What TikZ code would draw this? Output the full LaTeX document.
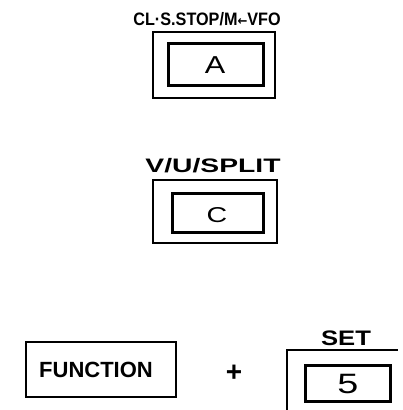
\documentclass[tikz,border=0pt]{standalone}
\usepackage{fontspec}
\setmainfont{Liberation Sans}
\newfontfamily\arrowfont{DejaVu Sans}
\begin{document}
\begin{tikzpicture}[x=1pt,y=-1pt,
  outerbox/.style={draw=black,line width=2pt},
  innerbox/.style={draw=black,line width=3pt},
  lbl/.style={inner sep=0pt,anchor=base,font=\bfseries},
  keytxt/.style={inner sep=0pt,anchor=base}]
\useasboundingbox[fill=white] (0,0) rectangle (403,410);
% A key
\node[lbl,font=\fontsize{18}{20}\bfseries\selectfont,xscale=0.9] (labA) at (207,25) {CL·S.STOP/M{\arrowfont\bfseries\fontsize{13}{14}\selectfont←}VFO};
\draw[outerbox] (153,32) rectangle (275,98);
\draw[innerbox] (168,43) rectangle (263,85);
\node[keytxt,font=\fontsize{24.5}{26}\selectfont,xscale=1.25] (keyA) at (215,73) {A};
% C key
\node[lbl,font=\fontsize{19.5}{22}\bfseries\selectfont,xscale=1.45] (labC) at (213,172) {V/U/SPLIT};
\draw[outerbox] (153,180) rectangle (277,243);
\draw[innerbox] (172,193) rectangle (263,232);
\node[keytxt,font=\fontsize{21.5}{24}\selectfont,xscale=1.33] (keyC) at (217,222) {C};
% FUNCTION
\draw[outerbox] (26,342) rectangle (176,397);
\node[lbl,font=\fontsize{22}{24}\bfseries\selectfont] (func) at (96,377) {FUNCTION};
\node[inner sep=0pt,font=\fontsize{28}{30}\bfseries\selectfont] (plus) at (234,373) {+};
% SET 5
\node[lbl,font=\fontsize{21}{24}\bfseries\selectfont,xscale=1.22] (labS) at (346,345) {SET};
\draw[outerbox] (287,412) -- (287,350) -- (398,350);
\draw[innerbox] (305,365) rectangle (390,401);
\node[keytxt,font=\fontsize{28}{30}\selectfont,xscale=1.35] (key5) at (348,393) {5};
\end{tikzpicture}
\end{document}
